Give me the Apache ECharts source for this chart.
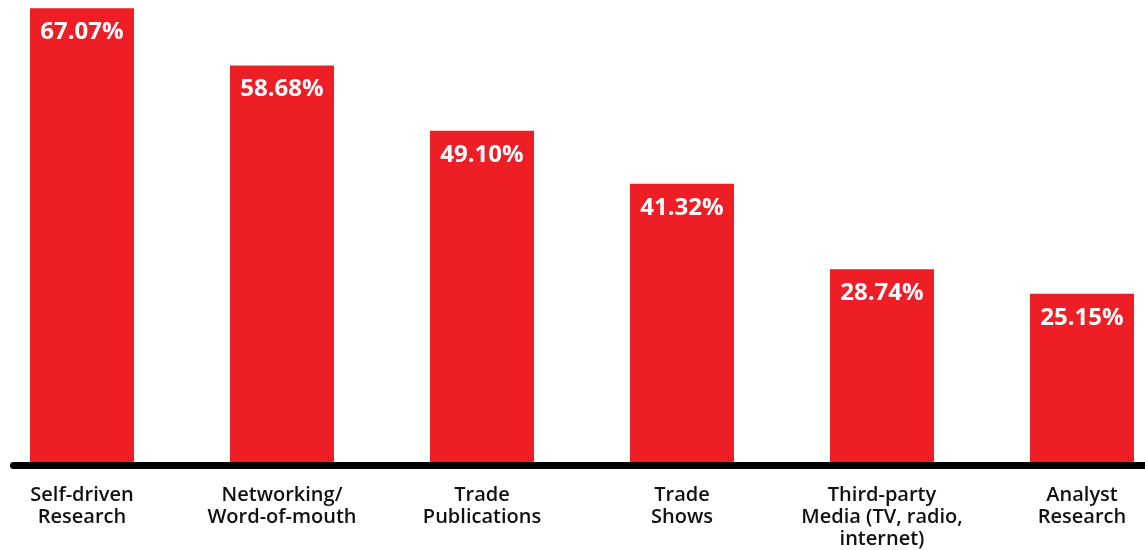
<!DOCTYPE html>
<html>
<head>
<meta charset="utf-8">
<style>
  html, body { margin: 0; padding: 0; background: #ffffff; }
  #chart { width: 1145px; height: 550px; }
</style>
<script src="https://cdn.jsdelivr.net/npm/echarts@6/dist/echarts.min.js"></script>
</head>
<body>
<div id="chart"></div>
<script>
// Sources used, share of respondents (%)
const categories = [
  'Self-driven\nResearch',
  'Networking/\nWord-of-mouth',
  'Trade\nPublications',
  'Trade\nShows',
  'Third-party\nMedia (TV, radio,\ninternet)',
  'Analyst\nResearch'
];
const shares = [67.07, 58.68, 49.10, 41.32, 28.74, 25.15];
const positions = categories.map((_, i) => i);

const RED = '#ED1E26';
const FONT = '"Open Sans", "Liberation Sans", sans-serif';

const chart = echarts.init(document.getElementById('chart'), null, { renderer: 'canvas' });

chart.setOption({
  animation: false,
  backgroundColor: '#ffffff',
  grid: { left: 13.5, right: 0, top: 0, bottom: 84, containLabel: false },
  xAxis: {
    // numeric band axis so the baseline can run past the outer bars
    type: 'value',
    min: -0.3425,
    max: 5.315,
    axisLine: {
      show: true,
      onZero: false,
      lineStyle: { color: '#000000', width: 7, cap: 'round' }
    },
    axisTick: { show: false },
    splitLine: { show: false },
    z: 10,
    axisLabel: {
      customValues: positions,
      formatter: v => categories[Math.round(v)] || '',
      margin: 19,
      color: '#111111',
      fontFamily: FONT,
      fontWeight: 600,
      fontSize: 20,
      lineHeight: 22,
      align: 'center',
      showMinLabel: true,
      showMaxLabel: true
    }
  },
  yAxis: {
    type: 'value',
    min: 0,
    max: 68.3,
    show: false,
    splitLine: { show: false }
  },
  series: [
    {
      type: 'bar',
      data: shares.map((v, i) => [positions[i], v]),
      barWidth: 104,
      itemStyle: { color: RED },
      label: {
        show: true,
        position: 'insideTop',
        distance: 12,
        color: '#ffffff',
        fontFamily: FONT,
        fontWeight: 700,
        fontSize: 24,
        formatter: p => p.value[1].toFixed(2) + '%'
      }
    }
  ]
});
</script>
</body>
</html>
